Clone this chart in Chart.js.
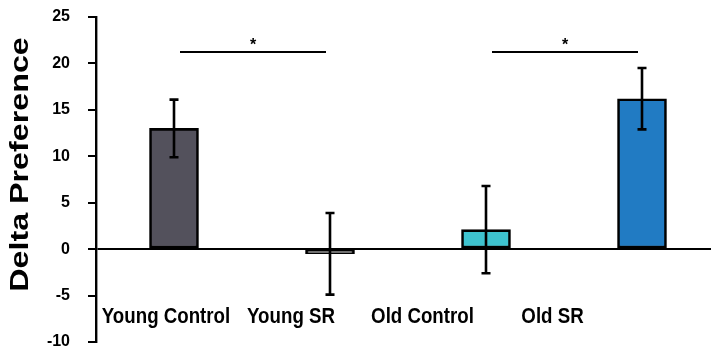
<!DOCTYPE html>
<html>
<head>
<meta charset="utf-8">
<script src="https://cdn.jsdelivr.net/npm/chart.js@4"></script>
<style>
  html, body { margin: 0; padding: 0; overflow: hidden; background: #ffffff; }
  #wrap { width: 720px; height: 358px; }
</style>
</head>
<body>
<div id="wrap"><canvas id="chart" width="720" height="358"></canvas></div>
<script>
// Group names and mean change in preference with its error
const groups = ['Young Control', 'Young SR', 'Old Control', 'Old SR'];
const deltaPreference = [13.0, -0.5, 2.1, 16.2];
const errorSize = [3.1, 4.4, 4.7, 3.3];
const yTicks = [-10, -5, 0, 5, 10, 15, 20, 25];
// Significant comparisons: pairs of group indices and the marker shown above
const sigPairs = [[0, 1], [2, 3]];
const sigMarks = ['*', '*'];
const sigLevel = 21.2;

const FONT = "'Liberation Sans', Arial, sans-serif";
const barColors = ['#53515c', '#ffffff', '#3ec3cf', '#217bc3'];

// Error bars with flat caps
const errorBars = {
  id: 'errorBars',
  afterDatasetsDraw(chart) {
    const { ctx, scales: { y } } = chart;
    const meta = chart.getDatasetMeta(0);
    ctx.save();
    ctx.strokeStyle = '#000';
    ctx.lineWidth = 2.6;
    meta.data.forEach((bar, i) => {
      const v = deltaPreference[i], e = errorSize[i];
      const yt = y.getPixelForValue(v + e);
      const yb = y.getPixelForValue(v - e);
      ctx.beginPath();
      ctx.moveTo(bar.x, yt); ctx.lineTo(bar.x, yb);
      ctx.moveTo(bar.x - 4.5, yt); ctx.lineTo(bar.x + 4.5, yt);
      ctx.moveTo(bar.x - 4.5, yb); ctx.lineTo(bar.x + 4.5, yb);
      ctx.stroke();
    });
    ctx.restore();
  }
};

// Comparison lines with their significance markers
const significance = {
  id: 'significance',
  afterDatasetsDraw(chart) {
    const { ctx, scales: { y } } = chart;
    const meta = chart.getDatasetMeta(0);
    const ly = Math.round(y.getPixelForValue(sigLevel));
    ctx.save();
    ctx.strokeStyle = '#000';
    ctx.fillStyle = '#000';
    ctx.lineWidth = 2;
    ctx.font = 'bold 16px ' + FONT;
    ctx.textAlign = 'center';
    ctx.textBaseline = 'alphabetic';
    sigPairs.forEach(([a, b], k) => {
      const x1 = meta.data[a].x + 6;
      const x2 = meta.data[b].x - 4;
      ctx.beginPath();
      ctx.moveTo(x1, ly); ctx.lineTo(x2, ly);
      ctx.stroke();
      ctx.fillText(sigMarks[k], (x1 + x2) / 2, ly - 2);
    });
    ctx.restore();
  }
};

// Group names under the zero line and the value-axis title
const labelsAndTitle = {
  id: 'labelsAndTitle',
  afterDraw(chart) {
    const { ctx, scales: { y } } = chart;
    const meta = chart.getDatasetMeta(0);
    const shifts = [-8, -39, -63.5, -89.5];
    const base = y.getPixelForValue(-8);
    ctx.save();
    ctx.fillStyle = '#000';
    ctx.font = 'bold 22px ' + FONT;
    ctx.textAlign = 'center';
    ctx.textBaseline = 'alphabetic';
    groups.forEach((g, i) => {
      ctx.save();
      ctx.translate(meta.data[i].x + shifts[i], base);
      ctx.scale(0.85, 1);
      ctx.fillText(g, 0, 0);
      ctx.restore();
    });
    ctx.save();
    ctx.translate(28, (chart.chartArea.top + chart.chartArea.bottom) / 2 - 15);
    ctx.rotate(-Math.PI / 2);
    ctx.scale(1.24, 1);
    ctx.font = 'bold 26px ' + FONT;
    ctx.fillText('Delta Preference', 0, 0);
    ctx.restore();
    ctx.restore();
  }
};

new Chart(document.getElementById('chart'), {
  type: 'bar',
  data: {
    labels: groups,
    datasets: [{
      data: deltaPreference,
      backgroundColor: barColors,
      borderColor: '#000',
      borderWidth: 2.6,
      borderSkipped: false,
      barThickness: 49
    }]
  },
  options: {
    responsive: false,
    animation: false,
    layout: { padding: { top: 17, bottom: 16, left: 0, right: 0 } },
    plugins: { legend: { display: false }, tooltip: { enabled: false } },
    scales: {
      x: { display: false, offset: true },
      y: {
        min: -10,
        max: 25,
        afterBuildTicks: (s) => { s.ticks = yTicks.map(v => ({ value: v })); },
        afterFit: (s) => { s.width = 96; s.paddingTop = 0; s.paddingBottom = 0; },
        border: { display: true, color: '#000', width: 2.4 },
        grid: {
          color: (c) => (c.tick && c.tick.value === 0 ? '#000' : 'rgba(0,0,0,0)'),
          lineWidth: 2,
          tickColor: '#000',
          tickWidth: 2,
          tickLength: 8
        },
        ticks: {
          color: '#000',
          padding: 18,
          font: { family: FONT, size: 16, weight: 'bold' }
        }
      }
    }
  },
  plugins: [errorBars, significance, labelsAndTitle]
});
</script>
</body>
</html>
